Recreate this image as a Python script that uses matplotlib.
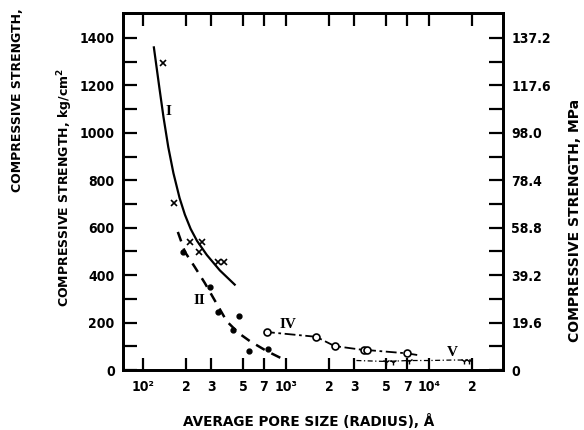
import matplotlib.pyplot as plt
from matplotlib import font_manager

# pick a narrow font for the numbers if we have one
names = set(f.name for f in font_manager.fontManager.ttflist)
narrow = "Liberation Sans Narrow" if "Liberation Sans Narrow" in names else "DejaVu Sans"
numfont = [narrow, "DejaVu Sans"]
numkw = dict(family=numfont, fontsize=10, weight="bold", fontstretch="condensed")

# curve I (solid) and its x points
c1_x = [119, 130, 139, 150, 163, 180, 196, 215, 238, 279, 344, 437]
c1_y = [1360, 1190, 1065, 940, 830, 725, 655, 595, 545, 485, 420, 360]
x1_x = [138, 164, 213, 257, 245, 332, 370]
x1_y = [1295, 704, 540, 540, 498, 456, 456]

# curve II (dashed) and its dots
c2_x = [175, 196, 230, 270, 307, 385, 467, 557, 731, 980]
c2_y = [582, 498, 434, 367, 308, 205, 155, 122, 80, 42]
d2_x = [190, 293, 333, 467, 424, 548, 743]
d2_y = [498, 350, 245, 228, 169, 80, 89]

# curve IV (dash dot, open circles)
c4_x = [700, 731, 1620, 2180, 3520, 3700, 7030, 8500]
c4_y = [160, 160, 140, 101, 84, 84, 70, 62]
o4_x = [731, 1620, 2180, 3520, 3700, 7030]
o4_y = [160, 140, 101, 84, 84, 70]

# curve V (thin dash dot along the bottom)
c5_x = [3100, 5000, 7200, 10000, 14500, 19800]
c5_y = [40, 36, 40, 40, 42, 42]
m5_x = [5000, 5600, 7200, 17500, 19000]
m5_y = [32, 32, 40, 36, 36]

xticks = [100, 200, 300, 500, 700, 1000, 2000, 3000, 5000, 7000, 10000, 20000]
xlabels = ["10²", "2", "3", "5", "7", "10³", "2", "3", "5", "7", "10⁴", "2"]
yticks = [0, 200, 400, 600, 800, 1000, 1200, 1400]
mpa_ticks = [0, 19.6, 39.2, 58.8, 78.4, 98.0, 117.6, 137.2]
mpa_labels = ["0", "19.6", "39.2", "58.8", "78.4", "98.0", "117.6", "137.2"]

fig = plt.figure(figsize=(5.84, 4.3), dpi=100)
ax = fig.add_axes([123/584, 1-370/430, 380/584, 357/430])

ax.plot(c1_x, c1_y, color="black", lw=1.6)
ax.plot(x1_x, x1_y, "x", color="black", ms=4, mew=1.2)
ax.plot(c2_x, c2_y, color="black", lw=1.8, dashes=(4, 3))
ax.plot(d2_x, d2_y, "o", color="black", ms=3.5)
ax.plot(c4_x, c4_y, color="black", lw=1.3, dashes=(6, 2, 1.5, 2))
ax.plot(o4_x, o4_y, "o", mfc="white", mec="black", ms=5, mew=1.2)
ax.plot(c5_x, c5_y, color="black", lw=0.9, dashes=(4, 2, 1, 2))
ax.plot(m5_x, m5_y, "1", color="black", ms=5)

ax.set_xscale("log")
ax.set_xlim(72.4, 32800)
ax.set_ylim(0, 1505)

ax.set_xticks(xticks)
ax.set_xticks([], minor=True)
ax.set_xticklabels(xlabels, **numkw)
ax.set_yticks(yticks)
ax.set_yticks(range(100, 1500, 200), minor=True)
ax.set_yticklabels([str(v) for v in yticks], **numkw)
ax.tick_params(axis="x", which="both", direction="in", top=True, length=9, width=1.6, pad=7)
ax.tick_params(axis="y", which="both", direction="in", length=10, width=1.6, pad=6)
for s in ax.spines.values():
    s.set_linewidth(2)

ax2 = ax.twinx()
ax2.set_ylim(0, 1505*0.098)
ax2.set_yticks(mpa_ticks)
ax2.set_yticks([9.8 + 19.6*i for i in range(7)], minor=True)
ax2.set_yticklabels(mpa_labels, **numkw)
ax2.tick_params(axis="y", which="both", direction="in", length=10, width=1.6, pad=6)
for s in ax2.spines.values():
    s.set_linewidth(2)

# curve names
rom = dict(family=["Liberation Serif", "DejaVu Serif"], fontsize=11, weight="bold")
ax.text(151, 1088, "I", ha="center", va="center", **rom)
ax.text(249, 295, "II", ha="center", va="center", **rom)
ax.text(1025, 190, "IV", ha="center", va="center", **rom)
ax.text(14500, 72, "V", ha="center", va="center", **rom)

lab = dict(family="DejaVu Sans", fontsize=9, weight="bold")
fig.text(18/584, 1-100/430, "COMPRESSIVE STRENGTH,", rotation=90, ha="center", va="center", **lab)
fig.text(65/584, 1-187/430, "COMPRESSIVE STRENGTH, kg/cm$^\\mathbf{2}$", rotation=90, ha="center", va="center", **lab)
fig.text(575/584, 1-220/430, "COMPRESSIVE STRENGTH, MPa", rotation=90, ha="center", va="center",
         family="DejaVu Sans", fontsize=10, weight="bold")
fig.text(309/584, 1-422/430, "AVERAGE PORE SIZE (RADIUS), Å", ha="center", va="center",
         family="DejaVu Sans", fontsize=9.8, weight="bold")

fig.savefig("out.png", dpi=100)
